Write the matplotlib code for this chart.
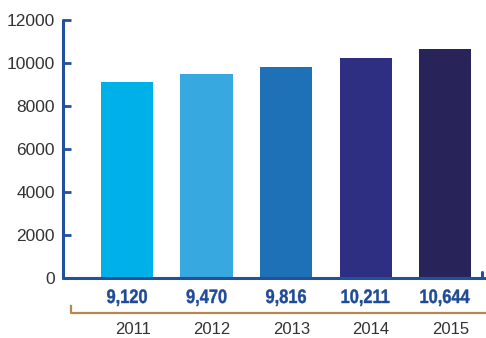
import matplotlib
matplotlib.use("Agg")
import matplotlib.pyplot as plt
from matplotlib.lines import Line2D
from matplotlib.patches import PathPatch
from matplotlib.textpath import TextPath
from matplotlib.font_manager import FontProperties
from matplotlib.transforms import Affine2D, ScaledTranslation, blended_transform_factory

years = ["2011", "2012", "2013", "2014", "2015"]
values = [9120, 9470, 9816, 10211, 10644]
value_labels = ["9,120", "9,470", "9,816", "10,211", "10,644"]
bar_colors = ["#00b1e9", "#38a9e0", "#1e71b7", "#2e2f82", "#28245a"]
yticks = [0, 2000, 4000, 6000, 8000, 10000, 12000]

axis_blue = "#234f9c"
label_blue = "#1f4a96"
brown = "#b8874f"
text_gray = "#333333"

plt.rcParams["font.family"] = ["Liberation Sans", "DejaVu Sans"]

fig = plt.figure(figsize=(4.86, 3.38), dpi=100)
ax = fig.add_axes([63 / 486, 60 / 338, 423 / 486, 258 / 338])

x = list(range(len(years)))
ax.bar(x, values, width=0.655, color=bar_colors, zorder=2)

ax.set_xlim(-0.805, 4.515)
ax.set_ylim(0, 12000)
ax.set_yticks(yticks)
ax.set_yticklabels([str(v) for v in yticks], fontsize=12.5, color=text_gray)
ax.tick_params(axis="y", direction="in", length=5.5, width=2, color=axis_blue, pad=6)

ax.set_xticks([xi + 0.07 for xi in x])
ax.set_xticklabels(years, fontsize=12, color=text_gray)
ax.tick_params(axis="x", length=0, pad=32)

for s in ["top", "right"]:
    ax.spines[s].set_visible(False)
for s in ["left", "bottom"]:
    ax.spines[s].set_color(axis_blue)
    ax.spines[s].set_linewidth(2.2)
    ax.spines[s].set_capstyle("round")

# small upturned end on the baseline
ax.plot([0.99, 0.99], [0, 0.023], transform=ax.transAxes, color=axis_blue,
        lw=2.2, clip_on=False, solid_capstyle="round")

# value labels: bold, horizontally squeezed text drawn as paths
fp = FontProperties(family="Liberation Sans", weight="bold")
trans = blended_transform_factory(ax.transData, fig.transFigure)
for xi, lab in zip(x, value_labels):
    tp = TextPath((0, 0), lab, size=1, prop=fp)
    bb = tp.get_extents()
    cx = (bb.x0 + bb.x1) / 2
    tr = (Affine2D().translate(-cx, 0).scale(0.164, 0.195)
          + fig.dpi_scale_trans
          + ScaledTranslation(xi, 35 / 338, trans))
    fig.add_artist(PathPatch(tp, transform=tr, facecolor=label_blue,
                             edgecolor=label_blue, lw=0.3))

# brown bracket under the values
fig.add_artist(Line2D([71 / 486, 71 / 486, 486 / 486], [32 / 338, 25 / 338, 25 / 338],
                      color=brown, lw=1.6))

fig.savefig("out.png", dpi=100)
